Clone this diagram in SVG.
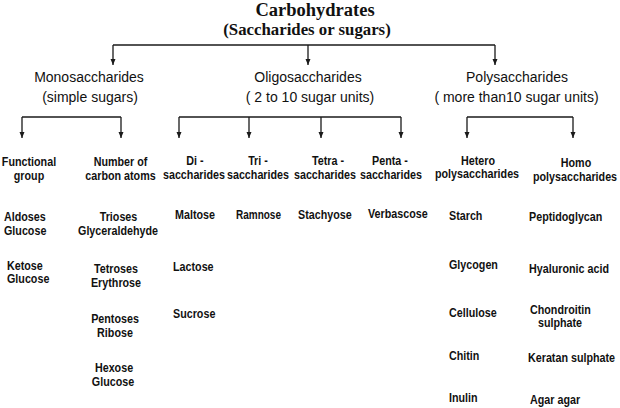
<svg xmlns="http://www.w3.org/2000/svg" width="620" height="408" viewBox="0 0 620 408">
<defs>
<style>
.bg{fill:#ffffff}
.t{font-family:"Liberation Serif","Times New Roman",serif;font-weight:bold;fill:#111;text-anchor:middle}
.h{font-family:"Liberation Sans",Arial,sans-serif;font-size:14px;fill:#111;text-anchor:middle}
.b{font-family:"Liberation Sans",Arial,sans-serif;font-weight:bold;font-size:12.5px;fill:#111}
.m{text-anchor:middle}
.c{fill:none;stroke:#1a1a1a;stroke-width:1.3}
</style>
<marker id="ah" markerWidth="6" markerHeight="6" refX="6" refY="3" orient="auto" markerUnits="userSpaceOnUse">
<path d="M0,0.5 L6,3 L0,5.5 z" fill="#1a1a1a"/>
</marker>
</defs>
<rect class="bg" x="0" y="0" width="620" height="408"/>

<g id="connectors">
<path class="c" d="M113,45 H495"/>
<path class="c" d="M113,45 V65" marker-end="url(#ah)"/>
<path class="c" d="M308,45 V65" marker-end="url(#ah)"/>
<path class="c" d="M495,45 V65" marker-end="url(#ah)"/>
<path class="c" d="M22,117 H121"/>
<path class="c" d="M22,117 V138" marker-end="url(#ah)"/>
<path class="c" d="M121,117 V138" marker-end="url(#ah)"/>
<path class="c" d="M179,117 H401"/>
<path class="c" d="M179,117 V138" marker-end="url(#ah)"/>
<path class="c" d="M249,117 V138" marker-end="url(#ah)"/>
<path class="c" d="M321,117 V138" marker-end="url(#ah)"/>
<path class="c" d="M401,117 V138" marker-end="url(#ah)"/>
<path class="c" d="M467,117 H573"/>
<path class="c" d="M467,117 V138" marker-end="url(#ah)"/>
<path class="c" d="M573,117 V138" marker-end="url(#ah)"/>
</g>

<g id="carbohydrates">
<text class="t" x="315" y="16" font-size="18.5">Carbohydrates</text>
<text class="t" x="307" y="35" font-size="16.8">(Saccharides or sugars)</text>
</g>

<g id="monosaccharides">
<text class="h" x="89" y="82">Monosaccharides</text>
<text class="h" x="90" y="101.5">(simple sugars)</text>
</g>
<g id="oligosaccharides">
<text class="h" x="308" y="82">Oligosaccharides</text>
<text class="h" x="310" y="101.5">( 2 to 10 sugar units)</text>
</g>
<g id="polysaccharides">
<text class="h" x="517" y="82">Polysaccharides</text>
<text class="h" x="516.5" y="101.5">( more than10 sugar units)</text>
</g>

<g id="functional-group">
<text class="b m" transform="translate(29,166) scale(.86,1)">Functional</text>
<text class="b m" transform="translate(29,180) scale(.86,1)">group</text>
<text class="b" transform="translate(4,221) scale(.86,1)">Aldoses</text>
<text class="b" transform="translate(4,234.5) scale(.86,1)">Glucose</text>
<text class="b" transform="translate(7,270) scale(.86,1)">Ketose</text>
<text class="b" transform="translate(7,283) scale(.86,1)">Glucose</text>
</g>

<g id="carbon-atoms">
<text class="b m" transform="translate(120.5,166) scale(.86,1)">Number of</text>
<text class="b m" transform="translate(120.5,180) scale(.86,1)">carbon atoms</text>
<text class="b m" transform="translate(118.5,221) scale(.86,1)">Trioses</text>
<text class="b m" transform="translate(118,235) scale(.86,1)">Glyceraldehyde</text>
<text class="b m" transform="translate(116,273) scale(.86,1)">Tetroses</text>
<text class="b m" transform="translate(116,287) scale(.86,1)">Erythrose</text>
<text class="b m" transform="translate(115,323) scale(.86,1)">Pentoses</text>
<text class="b m" transform="translate(115,337) scale(.86,1)">Ribose</text>
<text class="b m" transform="translate(114,372) scale(.86,1)">Hexose</text>
<text class="b m" transform="translate(113,385.5) scale(.86,1)">Glucose</text>
</g>

<g id="disaccharides">
<text class="b m" transform="translate(195,165) scale(.86,1)">Di -</text>
<text class="b m" transform="translate(194,179) scale(.86,1)">saccharides</text>
<text class="b" transform="translate(175,219) scale(.86,1)">Maltose</text>
<text class="b" transform="translate(173,271) scale(.86,1)">Lactose</text>
<text class="b" transform="translate(173,318) scale(.86,1)">Sucrose</text>
</g>

<g id="trisaccharides">
<text class="b m" transform="translate(258,165) scale(.86,1)">Tri -</text>
<text class="b m" transform="translate(258,179) scale(.86,1)">saccharides</text>
<text class="b" font-size="11.8" transform="translate(236,219) scale(.8,1)">Ramnose</text>
</g>

<g id="tetrasaccharides">
<text class="b m" transform="translate(328,165) scale(.86,1)">Tetra -</text>
<text class="b m" transform="translate(325,179) scale(.86,1)">saccharides</text>
<text class="b" transform="translate(298,219) scale(.86,1)">Stachyose</text>
</g>

<g id="pentasaccharides">
<text class="b m" transform="translate(390,165) scale(.86,1)">Penta -</text>
<text class="b m" transform="translate(391,179) scale(.86,1)">saccharides</text>
<text class="b" transform="translate(368,218) scale(.86,1)">Verbascose</text>
</g>

<g id="heteropolysaccharides">
<text class="b m" transform="translate(478,165) scale(.86,1)">Hetero</text>
<text class="b m" transform="translate(477,178) scale(.86,1)">polysaccharides</text>
<text class="b" transform="translate(449,220) scale(.86,1)">Starch</text>
<text class="b" transform="translate(449,269) scale(.86,1)">Glycogen</text>
<text class="b" transform="translate(449,317) scale(.86,1)">Cellulose</text>
<text class="b" transform="translate(449,360) scale(.86,1)">Chitin</text>
<text class="b" transform="translate(449,402) scale(.86,1)">Inulin</text>
</g>

<g id="homopolysaccharides">
<text class="b m" transform="translate(576,167) scale(.86,1)">Homo</text>
<text class="b m" transform="translate(575,181) scale(.86,1)">polysaccharides</text>
<text class="b" transform="translate(529,221) scale(.86,1)">Peptidoglycan</text>
<text class="b" transform="translate(529,273) scale(.86,1)">Hyaluronic acid</text>
<text class="b" transform="translate(530,314) scale(.86,1)">Chondroitin</text>
<text class="b m" transform="translate(560,327) scale(.86,1)">sulphate</text>
<text class="b" transform="translate(528,362) scale(.86,1)">Keratan sulphate</text>
<text class="b" transform="translate(530,404) scale(.86,1)">Agar agar</text>
</g>
</svg>
